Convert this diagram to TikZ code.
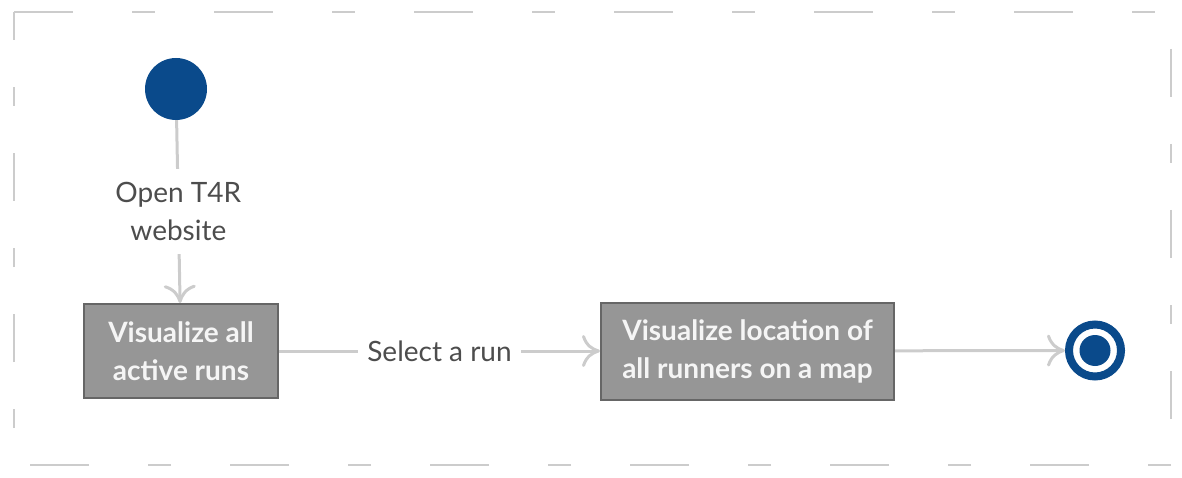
\documentclass[tikz,border=0pt]{standalone}
\usepackage{fontspec}
\setmainfont{Lato}
\usetikzlibrary{arrows.meta}
\definecolor{node_blue}{RGB}{10,74,139}
\definecolor{node_gray}{RGB}{150,150,150}
\definecolor{edge_gray}{RGB}{102,102,102}
\definecolor{line_gray}{RGB}{204,204,204}
\definecolor{text_gray}{RGB}{77,77,77}
\definecolor{text_white}{RGB}{245,245,245}

\begin{document}
\begin{tikzpicture}[->,>={To[length=18pt,width=32pt]},x=1pt,y=-1pt]
    \tikzstyle{start}=[circle, fill=node_blue, minimum size=62pt, inner sep=0pt]
    \tikzstyle{stop}=[circle, draw=node_blue, line width=8pt, fill=white, minimum size=52pt, inner sep=0pt,
                      path picture={\fill[node_blue] (path picture bounding box.center) circle (15.5pt);}]
    \tikzstyle{act}=[rectangle, draw=edge_gray, line width=2pt, fill=node_gray, text=text_white, align=center,
                     font=\fontsize{28}{38}\selectfont\bfseries, inner sep=0pt]
    \tikzstyle{lbl}=[fill=white, text=text_gray, align=center, font=\fontsize{28}{38}\selectfont,
                     inner xsep=9pt, inner ysep=13pt]
    \tikzstyle{frame}=[-, draw=line_gray, line width=2pt]

    \useasboundingbox (0,0) rectangle (1182,478);

    % dashed frame, side by side
    \draw[frame, dash pattern=on 59pt off 59pt on 23pt off 59pt] (14,12) -- (1171,12);
    \draw[frame, dash pattern=on 48pt off 47pt on 19pt off 47pt, dash phase=124pt] (1171,12) -- (1171,465);
    \draw[frame, dash pattern=on 23pt off 59pt on 59pt off 59pt] (1171,465) -- (14,465);
    \draw[frame, dash pattern=on 19pt off 47pt on 48pt off 47pt, dash phase=124pt] (14,465) -- (14,12);

    \node[start]                                   (init)   at (176,89)    {};
    \node[act, minimum width=194pt, minimum height=94pt] (runs)   at (181,351)  {Visualize all\\active runs};
    \node[act, minimum width=293pt, minimum height=97pt] (map)    at (747.5,351) {Visualize location of\\all runners on a map};
    \node[stop]                                    (final)  at (1095,350.5) {};

    \path[draw=line_gray, line width=3pt]
     (init) edge node[lbl] {Open T4R\\website} (runs)
     (runs) edge node[lbl] {Select a run} (map)
     (map)  edge (final)
     ;
\end{tikzpicture}
\end{document}
